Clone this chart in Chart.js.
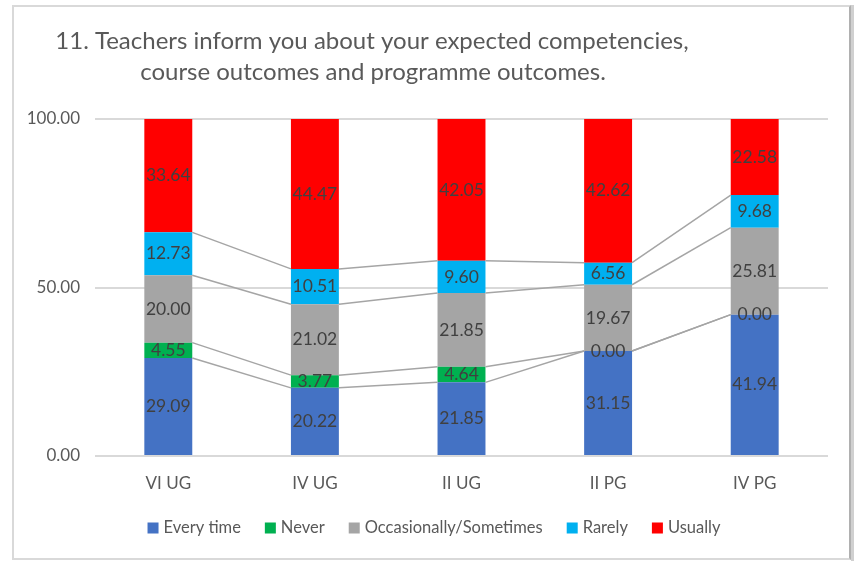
<!DOCTYPE html>
<html>
<head>
<meta charset="utf-8">
<script src="https://cdn.jsdelivr.net/npm/chart.js@4.4.1/dist/chart.umd.min.js"></script>
<style>
  html, body { margin: 0; padding: 0; background: #fff; }
  #wrap { position: relative; width: 854px; height: 561px; overflow: hidden; }
  #frame { position: absolute; left: 12px; top: 5px; width: 835px; height: 551px;
           border: 2px solid #d9d9d9; border-right: 2px solid #b0b0b0; }
  #shade { position: absolute; left: 851px; top: 5px; width: 3px; height: 556px; background: #d0d0d0; }
  canvas { position: absolute; left: 0; top: 0; }
</style>
</head>
<body>
<div id="wrap">
  <div id="frame"></div>
  <div id="shade"></div>
  <canvas id="chart" width="854" height="561"></canvas>
</div>
<script>
// data
const categories = ['VI UG', 'IV UG', 'II UG', 'II PG', 'IV PG'];
const everyTime  = [29.09, 20.22, 21.85, 31.15, 41.94];
const never      = [4.55, 3.77, 4.64, 0.00, 0.00];
const occasional = [20.00, 21.02, 21.85, 19.67, 25.81];
const rarely     = [12.73, 10.51, 9.60, 6.56, 9.68];
const usually    = [33.64, 44.47, 42.05, 42.62, 22.58];
const yTicks     = [0, 50, 100];
const titleLines = ['11. Teachers inform you about your expected competencies,',
                    'course outcomes and programme outcomes.'];

const FONT = 'Lato, "Open Sans", sans-serif';
const TEXT = '#595959';

// Excel-style series lines between the stacked segments
const seriesLines = {
  id: 'seriesLines',
  afterDatasetsDraw(chart) {
    const ctx = chart.ctx;
    ctx.save();
    ctx.strokeStyle = '#a5a5a5';
    ctx.lineWidth = 1.5;
    for (let d = 0; d < chart.data.datasets.length - 1; d++) {
      const bars = chart.getDatasetMeta(d).data;
      for (let i = 0; i < bars.length - 1; i++) {
        const a = bars[i], b = bars[i + 1];
        ctx.beginPath();
        ctx.moveTo(a.x + a.width / 2, a.y);
        ctx.lineTo(b.x - b.width / 2, b.y);
        ctx.stroke();
      }
    }
    ctx.restore();
  }
};

// value labels centred in each segment
const barLabels = {
  id: 'barLabels',
  afterDatasetsDraw(chart) {
    const ctx = chart.ctx;
    ctx.save();
    ctx.font = '17.5px ' + FONT;
    ctx.fillStyle = '#404040';
    ctx.textAlign = 'center';
    ctx.textBaseline = 'middle';
    chart.data.datasets.forEach((ds, d) => {
      chart.getDatasetMeta(d).data.forEach((bar, i) => {
        ctx.fillText(ds.data[i].toFixed(2), bar.x, (bar.y + bar.base) / 2);
      });
    });
    ctx.restore();
  }
};

// title and legend, placed like the Excel original
const frameText = {
  id: 'frameText',
  afterDraw(chart) {
    const ctx = chart.ctx;
    ctx.save();
    ctx.font = '24px ' + FONT;
    ctx.fillStyle = TEXT;
    ctx.textAlign = 'center';
    ctx.textBaseline = 'middle';
    ctx.fillText(titleLines[0], 372, 41);
    ctx.fillText(titleLines[1], 373, 72);

    ctx.font = '16.5px ' + FONT;
    ctx.textAlign = 'left';
    const box = 11, gapBox = 5, gapItem = 24;
    const items = chart.data.datasets.map(ds => ({
      label: ds.label, color: ds.backgroundColor, w: ctx.measureText(ds.label).width
    }));
    const total = items.reduce((s, it) => s + box + gapBox + it.w, 0) + gapItem * (items.length - 1);
    let x = 434 - total / 2;
    const y = 528;
    items.forEach(it => {
      ctx.fillStyle = it.color;
      ctx.fillRect(x, y - box / 2, box, box);
      ctx.fillStyle = TEXT;
      ctx.fillText(it.label, x + box + gapBox, y);
      x += box + gapBox + it.w + gapItem;
    });
    ctx.restore();
  }
};

new Chart(document.getElementById('chart'), {
  type: 'bar',
  data: {
    labels: categories,
    datasets: [
      { label: 'Every time', data: everyTime, backgroundColor: '#4472c4' },
      { label: 'Never', data: never, backgroundColor: '#00b050' },
      { label: 'Occasionally/Sometimes', data: occasional, backgroundColor: '#a5a5a5' },
      { label: 'Rarely', data: rarely, backgroundColor: '#00b0f0' },
      { label: 'Usually', data: usually, backgroundColor: '#ff0000' }
    ]
  },
  options: {
    responsive: false,
    animation: false,
    layout: { padding: { left: 14, right: 26, top: 119, bottom: 60 } },
    datasets: { bar: { categoryPercentage: 0.327, barPercentage: 1 } },
    scales: {
      x: {
        stacked: true,
        afterFit: s => { s.height = 45; },
        grid: { display: false, drawTicks: false },
        border: { display: false },
        ticks: { color: TEXT, font: { family: FONT, size: 17 }, padding: 17 }
      },
      y: {
        stacked: true,
        min: 0, max: 100,
        afterBuildTicks: s => { s.ticks = yTicks.map(v => ({ value: v })); },
        afterFit: s => { s.width = 81; },
        grid: { color: '#d9d9d9', lineWidth: 2, drawTicks: false },
        border: { display: false },
        ticks: { color: TEXT, font: { family: FONT, size: 17 }, padding: 15,
                 callback: v => v.toFixed(2) }
      }
    },
    plugins: {
      legend: { display: false },
      tooltip: { enabled: false }
    }
  },
  plugins: [seriesLines, barLabels, frameText]
});
</script>
</body>
</html>
